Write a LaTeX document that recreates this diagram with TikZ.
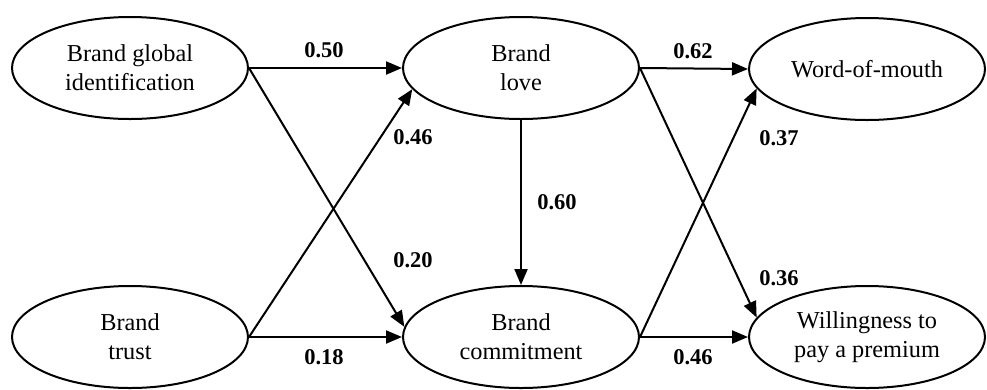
\documentclass[tikz,border=0pt]{standalone}
\usepackage{fontspec}
\setmainfont{Liberation Serif}
\usetikzlibrary{arrows.meta,shapes.geometric}
\begin{document}
\begin{tikzpicture}[x=1pt,y=-1pt,
  construct/.style={draw,ellipse,line width=2pt,minimum width=236pt,minimum height=102pt,inner sep=0pt,align=center,font=\fontsize{24.3}{29}\selectfont},
  path/.style={line width=2pt,-{Triangle[length=16pt,width=13pt]}},
  coef/.style={font=\fontsize{22.5}{26}\selectfont\bfseries,inner sep=0pt}]
\useasboundingbox (0,0) rectangle (987,389);
\node[construct] (bgi) at (130,68) {Brand global\\identification};
\node[construct] (bt)  at (130,337) {Brand\\trust};
\node[construct] (bl)  at (521,68) {Brand\\love};
\node[construct] (bc)  at (521,337) {Brand\\commitment};
\node[construct] (wom) at (867,69) {Word-of-mouth};
\node[construct] (wtp) at (867,337) {Willingness to\\pay a premium};
\draw[path] (bgi.east) -- (bl.west);
\draw[path] (bgi.east) -- (bc.175);
\draw[path] (bt.east) -- (bl.191);
\draw[path] (bt.east) -- (bc.west);
\draw[path] (bl.south) -- (bc.north);
\draw[path] (bl.east) -- (wom.west);
\draw[path] (bl.east) -- (wtp.170);
\draw[path] (bc.east) -- (wom.190);
\draw[path] (bc.east) -- (wtp.west);
\node[coef] (c1) at (324,50) {0.50};
\node[coef] (c2) at (413,137) {0.46};
\node[coef] (c3) at (413,260) {0.20};
\node[coef] (c4) at (324,357) {0.18};
\node[coef] (c5) at (557,202) {0.60};
\node[coef] (c6) at (693,51) {0.62};
\node[coef] (c7) at (779,138) {0.37};
\node[coef] (c8) at (779,278) {0.36};
\node[coef] (c9) at (693,357) {0.46};
\end{tikzpicture}
\end{document}
